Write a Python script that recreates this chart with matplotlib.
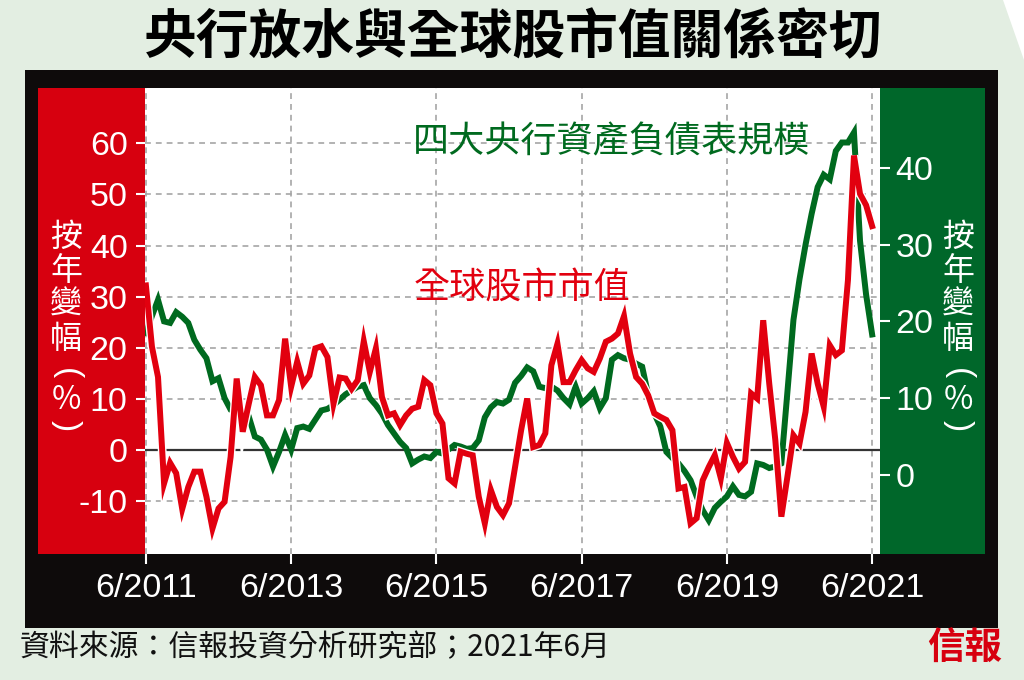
import numpy as np
import matplotlib.pyplot as plt
from matplotlib.patches import Rectangle, Polygon
import matplotlib.patheffects as pe

plt.rcParams['font.family'] = ['Noto Sans CJK TC', 'DejaVu Sans']

# 全球股市市值 按年變幅(%), monthly 6/2011 - 6/2021 (left axis)
stock_cap = [32.2, 20.2, 14.3, -6.5, -2.5, -4.5, -11.5, -7.2, -4.2, -4.2,
             -9.1, -15.3, -11.4, -10.1, -1.3, 14.0, 3.6, 9.1, 14.3, 12.7,
             6.8, 6.8, 9.8, 21.8, 12.4, 17.3, 13.0, 14.6, 19.9, 20.3,
             18.2, 9.1, 14.2, 14.0, 12.0, 13.7, 21.3, 15.3, 19.9, 10.4,
             6.8, 7.2, 4.9, 6.8, 8.1, 8.5, 13.7, 12.7, 7.2, 5.2,
             -5.5, -6.5, -0.3, -0.7, -1.0, -9.1, -14.3, -7.8, -11.1, -12.7,
             -10.4, -3.3, 3.9, 10.1, 0.6, 1.0, 3.3, 16.6, 20.8, 13.3,
             13.3, 15.6, 17.6, 16.0, 15.3, 17.9, 21.2, 21.8, 22.8, 26.2,
             18.9, 14.3, 13.0, 10.7, 7.2, 6.5, 5.9, 3.9, -7.5, -7.2,
             -14.3, -13.3, -5.9, -3.3, -1.0, -5.5, 1.4, -1.3, -3.6, -2.3,
             11.1, 10.1, 25.4, 13.0, 2.0, -13.0, -5.2, 2.9, 1.3, 7.5,
             18.9, 13.0, 8.5, 20.5, 18.6, 19.5, 33.2, 57.6, 50.1, 47.9,
             43.8]

# 四大央行資產負債表規模 按年變幅(%), monthly (right axis)
cb_assets = [18.5, 20.7, 22.8, 20.0, 19.8, 21.2, 20.6, 19.8, 17.6, 16.3,
             15.2, 12.2, 12.6, 10.0, 8.5, 8.2, 8.0, 7.6, 5.0, 4.6,
             3.3, 1.1, 3.0, 5.2, 3.3, 6.1, 6.3, 6.0, 7.2, 8.4,
             8.6, 9.1, 9.8, 10.5, 11.0, 11.5, 11.7, 10.0, 9.1, 8.0,
             6.5, 5.4, 4.3, 3.5, 1.5, 2.0, 2.4, 2.2, 3.0, 2.8,
             3.3, 3.9, 3.7, 3.4, 3.5, 4.5, 7.5, 8.8, 9.5, 9.3,
             9.8, 12.0, 12.9, 14.0, 13.5, 11.5, 11.3, 11.5, 11.0, 10.0,
             9.2, 11.5, 9.3, 10.0, 10.9, 8.7, 10.0, 15.0, 15.6, 15.2,
             15.0, 14.5, 14.1, 10.4, 8.0, 6.3, 3.0, 2.2, 1.5, 0.5,
             -0.7, -2.8, -4.6, -5.9, -4.3, -3.5, -2.8, -1.5, -2.6, -2.8,
             -2.2, 1.5, 1.3, 0.9, 1.1, 1.5, 10.8, 20.2, 25.5, 30.0,
             34.0, 37.5, 39.1, 38.5, 42.2, 43.3, 43.3, 44.6, 30.5, 23.5,
             18.3]

months = np.arange(len(stock_cap))
x_ticks = [0, 24, 48, 72, 96, 120]
x_labels = ['6/2011', '6/2013', '6/2015', '6/2017', '6/2019', '6/2021']
left_ticks = [-10, 0, 10, 20, 30, 40, 50, 60]
right_ticks = [0, 10, 20, 30, 40]
ylab_chars = ['按', '年', '變', '幅', '(', '%', ')']

RED = '#d7000f'
LINE_RED = '#e2000f'
GREEN = '#00672a'
LINE_GREEN = '#006a1f'

W, H = 1024, 680


def fx(px):
    return px / W


def fy(py):
    return 1 - py / H


fig = plt.figure(figsize=(10.24, 6.8), dpi=100)
fig.patch.set_facecolor('white')

# background with the cut corner, black frame and coloured side panels
fig.add_artist(Polygon([(0, 1), (fx(1003), 1), (1, fy(60)), (1, 0), (0, 0)],
                       closed=True, transform=fig.transFigure,
                       facecolor='#e3eee2', edgecolor='none', zorder=-5))
fig.add_artist(Rectangle((fx(25), fy(628)), fx(973), 558 / H, transform=fig.transFigure,
                         facecolor='#0e0b0b', edgecolor='none', zorder=-4))
fig.add_artist(Rectangle((fx(38), fy(554)), fx(107), 466 / H, transform=fig.transFigure,
                         facecolor=RED, edgecolor='none', zorder=-3))
fig.add_artist(Rectangle((fx(880), fy(554)), fx(105), 466 / H, transform=fig.transFigure,
                         facecolor=GREEN, edgecolor='none', zorder=-3))

pos = [fx(145), fy(554), fx(735), 466 / H]

# base axes: left scale, grid, ticks
ax = fig.add_axes(pos)
ax.set_zorder(1)
ax.set_facecolor('white')
ax.set_xlim(-0.15, 121.3)
ax.set_ylim(-20.3, 70.8)
for s in ax.spines.values():
    s.set_visible(False)
ax.set_yticks(left_ticks, labels=[str(v) for v in left_ticks],
              fontfamily='Liberation Sans', fontsize=24.5, color='white')
ax.set_xticks(x_ticks, labels=x_labels, fontfamily='Liberation Sans',
              fontsize=24.5, color='white')
ax.tick_params(axis='y', length=6.5, width=1.5, color='white', pad=6)
ax.tick_params(axis='x', length=7, width=1.5, color='white', pad=7)
ax.grid(True, color='#a5a5a5', linestyle=(0, (3.5, 3)), linewidth=1.2)
ax.axhline(0, color='#333333', linewidth=1.6)

# green series on the right scale
ax2 = ax.twinx()
ax2.set_zorder(2)
ax2.patch.set_visible(False)
ax2.set_ylim(-10.3, 50.4)
for s in ax2.spines.values():
    s.set_visible(False)
ax2.set_yticks(right_ticks, labels=[str(v) for v in right_ticks],
               fontfamily='Liberation Sans', fontsize=24.5, color='white')
ax2.tick_params(axis='y', length=7, width=1.5, color='white', pad=4)
ax2.plot(months, cb_assets, color=LINE_GREEN, linewidth=4.3, solid_joinstyle='miter')

# red series on top
ax3 = fig.add_axes(pos, sharex=ax, sharey=ax)
ax3.set_zorder(3)
ax3.patch.set_visible(False)
ax3.axis('off')
ax3.plot(months, stock_cap, color=LINE_RED, linewidth=4.3, solid_joinstyle='miter',
         path_effects=[pe.Stroke(linewidth=6.3, foreground='white'), pe.Normal()])

ax3.text(0.365, 0.884, '四大央行資產負債表規模', transform=ax3.transAxes,
         color=LINE_GREEN, fontsize=26, va='center', ha='left')
ax3.text(0.365, 0.571, '全球股市市值', transform=ax3.transAxes,
         color=LINE_RED, fontsize=26, va='center', ha='left')

# stacked vertical axis titles; brackets turned to the vertical form
char_y = [237, 271, 305, 339, 374, 400, 426]
for ch, cy in zip(ylab_chars, char_y):
    if ch in '()':
        kw = dict(rotation=-90, fontfamily='Liberation Sans', fontsize=24)
    else:
        kw = dict(fontsize=23)
    for xc in (66, 958):
        fig.text(fx(xc), fy(cy), ch, color='white', ha='center', va='center', **kw)

fig.text(fx(513), fy(38), '央行放水與全球股市值關係密切', fontsize=38, fontweight='bold',
         ha='center', va='center', color='black')
fig.text(fx(20), fy(648), '資料來源：信報投資分析研究部；2021年6月', fontsize=21.5,
         ha='left', va='center', color='#111111')
fig.text(fx(965), fy(648), '信報', fontsize=27, fontweight='bold', ha='center',
         va='center', color='#d7000f')

fig.savefig('out.png', dpi=100)
